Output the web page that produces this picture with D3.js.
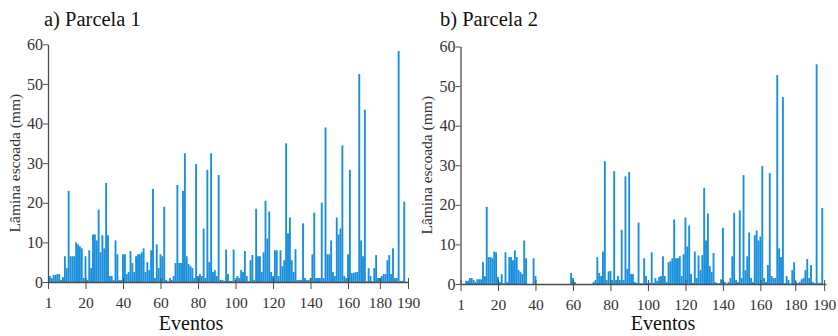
<!DOCTYPE html>
<html>
<head>
<meta charset="utf-8">
<script src="https://cdn.jsdelivr.net/npm/d3@7"></script>
<style>
  body { margin: 0; background: #fff; }
  svg text { font-family: "Liberation Serif", "DejaVu Serif", serif; }
</style>
</head>
<body>
<svg id="chart" width="838" height="336"></svg>
<script>
// runoff depth (mm) per event, plot 1
const parcela1 = [
  1.5, 1, 1.8, 1.8, 2, 2, 0.5, 1.2, 6.5, 3.5,
  23, 6.5, 6.5, 6.5, 10, 9.5, 9, 8.5, 1, 6.5,
  0.5, 8, 3.5, 12, 12, 10.5, 18.3, 7.5, 11.8, 8.5,
  25, 11.8, 1.5, 1.5, 0.5, 10.5, 7, 0.5, 0.5, 7,
  7, 2, 2.5, 7.8, 4.8, 2.5, 6.5, 7, 7, 7.5,
  8.5, 2.5, 5, 3, 8, 23.5, 1, 9.5, 3.5, 7,
  6.5, 19, 0.5, 0.2, 1, 0.5, 1.5, 4.8, 24.5, 4.8,
  4.8, 23, 32.5, 6.5, 4.5, 4, 3.5, 1, 29.8, 1.5,
  2, 1.5, 13.5, 1, 28.3, 5, 32.5, 2.5, 3, 1.5,
  27, 0.5, 0.5, 0.3, 8.2, 2, 0.3, 0.3, 8.2, 0.5,
  1.5, 1, 3, 2.5, 7.8, 1.5, 0.2, 5.5, 6.8, 0.5,
  18.5, 6.5, 6.5, 2.5, 7.5, 20.5, 11, 17.8, 2.5, 1.5,
  8, 8, 1.5, 8, 4, 5.5, 35, 12.3, 16.3, 5.5,
  2.5, 8.3, 0.5, 0.5, 0.5, 14.8, 1, 0.5, 0.5, 1,
  7, 17.5, 1, 1, 1, 20, 1, 39, 7, 7,
  10.5, 2.5, 1.5, 16.3, 12, 13.5, 34.5, 1.5, 1, 7,
  28.3, 2.3, 2.3, 2.5, 2.5, 52.5, 10.5, 6.5, 43.5, 0.2,
  3.5, 1.5, 0.2, 3.5, 6.8, 1, 1, 1.5, 2, 2,
  5.5, 6.8, 2, 8.5, 1, 1, 58.3, 0.3, 0.3, 20.3
];

// runoff depth (mm) per event, plot 2
const parcela2 = [
  0, 0, 0.8, 0.8, 1.5, 1.5, 1, 0.5, 1.2, 1.2,
  1.2, 5.5, 2, 19.5, 6.8, 6.8, 6.5, 8.2, 8, 1.8,
  0.5, 2.5, 0.2, 8, 0.5, 6.8, 6.8, 6, 8.5, 6.8,
  3.5, 3, 2.5, 11, 6.5, 0, 0, 0, 6.5, 2,
  0, 0, 0, 0, 0, 0, 0, 0, 0, 0,
  0, 0, 0, 0, 0, 0, 0, 0, 2.8, 1.5,
  0.5, 0, 0, 0, 0, 0, 0, 0, 0, 0,
  0.5, 1, 6.8, 2.8, 2, 8.2, 31, 1, 3.2, 3.3,
  1, 28.5, 1, 2, 1, 13.7, 1, 27.2, 3.8, 28.3,
  2.5, 2.5, 0.5, 0.3, 15.5, 0.2, 0.2, 6.5, 2, 0.3,
  0.3, 8, 0.3, 1.5, 0.8, 1.8, 2, 7, 2, 0.5,
  5.5, 5.8, 6.5, 16.3, 6.5, 6.5, 7, 2, 7.5, 16.8,
  9.5, 14.8, 2.5, 0.3, 8.2, 1.5, 7.2, 3.5, 7.3, 24.3,
  11, 17.8, 4.5, 3, 7.8, 0.5, 0.2, 0.2, 1.2, 14.2,
  0.5, 0.1, 0.5, 1.5, 7, 18, 1, 0.5, 18.6, 1.5,
  27.5, 3.5, 7, 13, 1.5, 0.5, 12.3, 13.5, 11, 12,
  29.8, 1.5, 0.5, 4.8, 28, 2, 1.5, 1.5, 52.8, 9,
  6.8, 47.2, 0.2, 2, 1, 0.1, 3.5, 5.5, 0.5, 0.2,
  0.5, 1.2, 1.5, 3.5, 6.3, 1.5, 4.8, 0.5, 0.2, 55.5,
  0.3, 0.3, 19.2
];

const titles = ['a) Parcela 1', 'b) Parcela 2'];
const yTicks = [0, 10, 20, 30, 40, 50, 60];
const xTickLabels = ['1', '20', '40', '60', '80', '100', '120', '140', '160', '180', '190'];
// where the printed tick marks sit, in event units (the original axis is uneven at the end)
const xTickPos1 = [0, 20, 40, 60, 80, 100, 120, 140, 160, 177, 192];
const xTickPos2 = [0, 20, 40, 60, 80, 100, 120, 140, 160, 178.6, 194];

const svg = d3.select('#chart');
const barColor = '#1a8fdc';
const axisColor = '#4d4d4d';

const panels = [
  { data: parcela1, title: titles[0], ticks: xTickPos1, left: 48, right: 408, top: 44.3, bottom: 282, xmax: 192, titleX: 44, labelX: 191, yLabelX: 15 },
  { data: parcela2, title: titles[1], ticks: xTickPos2, left: 460.5, right: 826, top: 46.5, bottom: 284, xmax: 195, titleX: 440, labelX: 663, yLabelX: 427 }
];

panels.forEach(p => {
  const g = svg.append('g');

  const x = d3.scaleLinear().domain([0, p.xmax]).range([p.left, p.right]);
  const y = d3.scaleLinear().domain([0, 60]).range([p.bottom, p.top]);
  const w = (x(1) - x(0)) * 1.0;

  g.selectAll('rect')
    .data(p.data)
    .enter()
    .append('rect')
    .attr('x', (d, i) => x(i + 1) - w / 2)
    .attr('y', d => y(d))
    .attr('width', w)
    .attr('height', d => y(0) - y(d))
    .attr('fill', barColor);

  const xAxis = d3.axisBottom(x)
    .tickValues(p.ticks)
    .tickFormat((d, i) => xTickLabels[i])
    .tickSizeInner(7)
    .tickSizeOuter(0);

  const gx = g.append('g')
    .attr('transform', 'translate(0,' + p.bottom + ')')
    .call(xAxis);
  gx.select('.domain').attr('stroke', axisColor).attr('stroke-width', 1.3);
  gx.selectAll('.tick line').attr('stroke', axisColor).attr('y1', -4).attr('stroke-width', 1);
  gx.selectAll('.tick text')
    .attr('fill', '#333')
    .attr('font-size', 15.5)
    .attr('dy', '1.05em');

  const yAxis = d3.axisLeft(y)
    .tickValues(yTicks)
    .tickSizeInner(5)
    .tickSizeOuter(0);

  const gy = g.append('g')
    .attr('transform', 'translate(' + p.left + ',0)')
    .call(yAxis);
  gy.select('.domain').attr('stroke', axisColor).attr('stroke-width', 1.3);
  gy.selectAll('.tick line').attr('stroke', axisColor);
  gy.selectAll('.tick text')
    .attr('fill', '#333')
    .attr('font-size', 16)
    .attr('x', -5);
  gy.selectAll('text').attr('font-family', '"Liberation Serif", serif');
  gx.selectAll('text').attr('font-family', '"Liberation Serif", serif');

  g.append('text')
    .attr('x', p.titleX)
    .attr('y', 26)
    .attr('font-size', 20.5)
    .attr('fill', '#111')
    .text(p.title);

  g.append('text')
    .attr('x', p.labelX)
    .attr('y', 330)
    .attr('text-anchor', 'middle')
    .attr('font-size', 20)
    .attr('fill', '#111')
    .text('Eventos');

  g.append('text')
    .attr('transform', 'translate(' + p.yLabelX + ',' + ((p.top + p.bottom) / 2) + ') rotate(-90)')
    .attr('text-anchor', 'middle')
    .attr('dy', '0.35em')
    .attr('font-size', 15.5)
    .attr('fill', '#333')
    .text('Lâmina escoada (mm)');
});
</script>
</body>
</html>
